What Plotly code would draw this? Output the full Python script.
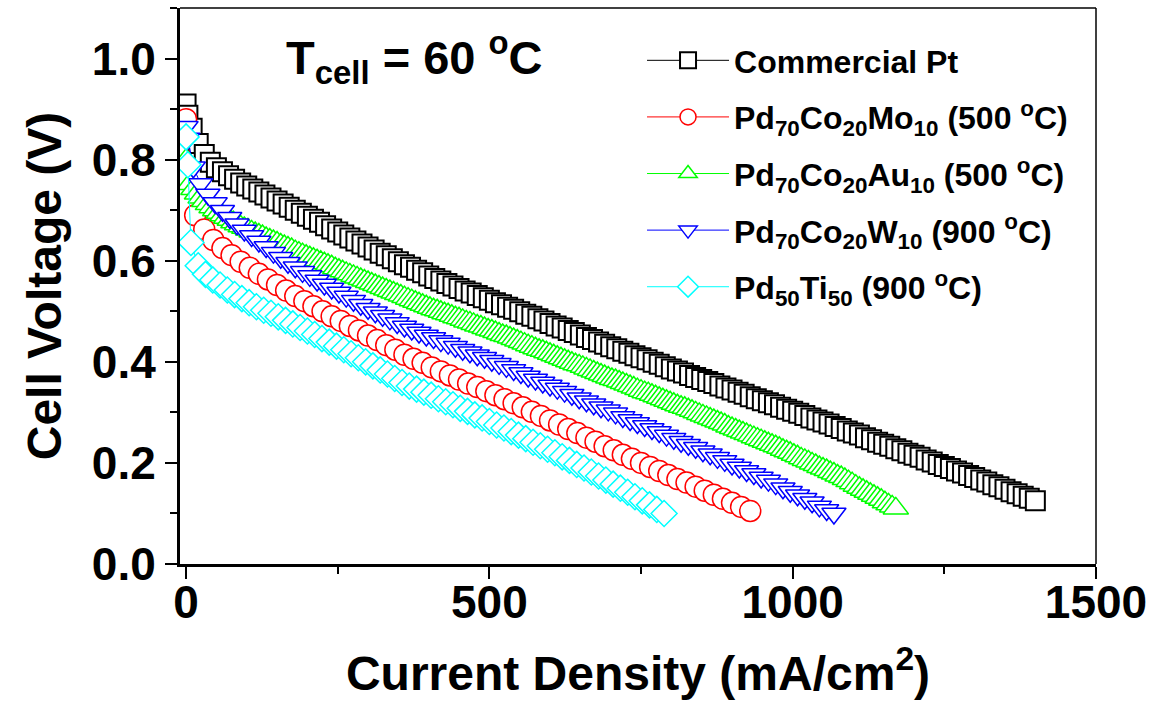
import plotly.graph_objects as go

# ---------------- data ----------------
pt_x = [0, 3, 10, 20, 30, 40, 50, 60, 70, 80, 90, 100, 110, 120, 130, 140, 150, 160, 170, 180, 190,
        200, 210, 220, 230, 240, 250, 260, 270, 280, 290, 300, 310, 320, 330, 340, 350, 360, 370, 380, 390,
        400, 410, 420, 430, 440, 450, 460, 470, 480, 490, 500, 510, 520, 530, 540, 550, 560, 570, 580, 590,
        600, 610, 620, 630, 640, 650, 660, 670, 680, 690, 700, 710, 720, 730, 740, 750, 760, 770, 780, 790,
        800, 810, 820, 830, 840, 850, 860, 870, 880, 890, 900, 910, 920, 930, 940, 950, 960, 970, 980, 990,
        1000, 1010, 1020, 1030, 1040, 1050, 1060, 1070, 1080, 1090, 1100, 1110, 1120, 1130, 1140, 1150,
        1160, 1170, 1180, 1190, 1200, 1210, 1220, 1230, 1240, 1250, 1260, 1270, 1280, 1290, 1300, 1310,
        1320, 1330, 1340, 1350, 1360, 1370, 1380, 1390, 1400]
pt_y = [0.910, 0.888, 0.862, 0.832, 0.810, 0.795, 0.784, 0.776, 0.768, 0.761, 0.754, 0.748, 0.742, 0.736,
        0.730, 0.724, 0.718, 0.712, 0.706, 0.700, 0.694, 0.688, 0.682, 0.676, 0.669, 0.663, 0.657, 0.651,
        0.645, 0.639, 0.633, 0.627, 0.621, 0.615, 0.610, 0.604, 0.598, 0.592, 0.587, 0.581, 0.576, 0.570,
        0.565, 0.560, 0.555, 0.550, 0.545, 0.540, 0.536, 0.531, 0.527, 0.522, 0.517, 0.513, 0.508, 0.504,
        0.499, 0.494, 0.490, 0.485, 0.481, 0.476, 0.471, 0.467, 0.462, 0.458, 0.453, 0.448, 0.444, 0.439,
        0.435, 0.430, 0.426, 0.421, 0.417, 0.412, 0.408, 0.404, 0.399, 0.395, 0.390, 0.386, 0.382, 0.378,
        0.373, 0.369, 0.365, 0.361, 0.357, 0.352, 0.348, 0.344, 0.340, 0.336, 0.331, 0.327, 0.323, 0.319,
        0.315, 0.310, 0.306, 0.302, 0.298, 0.294, 0.289, 0.285, 0.281, 0.277, 0.272, 0.268, 0.263, 0.259,
        0.255, 0.250, 0.246, 0.241, 0.237, 0.233, 0.228, 0.224, 0.219, 0.215, 0.211, 0.206, 0.202, 0.197,
        0.193, 0.189, 0.184, 0.180, 0.175, 0.171, 0.166, 0.162, 0.157, 0.153, 0.148, 0.143, 0.139, 0.134,
        0.130, 0.125]

mo_x = [0, 15, 30, 45, 60, 75, 90, 105, 120, 135, 150, 165, 180, 195, 210, 225, 240, 255, 270, 285, 300,
        315, 330, 345, 360, 375, 390, 405, 420, 435, 450, 465, 480, 495, 510, 525, 540, 555, 570, 585, 600,
        615, 630, 645, 660, 675, 690, 705, 720, 735, 750, 765, 780, 795, 810, 825, 840, 855, 870, 885, 900,
        915, 930]
mo_y = [0.880, 0.690, 0.662, 0.641, 0.625, 0.611, 0.598, 0.586, 0.574, 0.563, 0.552, 0.541, 0.530, 0.520,
        0.510, 0.500, 0.490, 0.481, 0.471, 0.462, 0.452, 0.443, 0.433, 0.424, 0.414, 0.406, 0.398, 0.389,
        0.381, 0.373, 0.365, 0.357, 0.350, 0.342, 0.334, 0.326, 0.318, 0.310, 0.301, 0.293, 0.284, 0.276,
        0.267, 0.259, 0.250, 0.242, 0.233, 0.225, 0.216, 0.208, 0.200, 0.192, 0.184, 0.176, 0.168, 0.161,
        0.153, 0.145, 0.137, 0.129, 0.121, 0.113, 0.105]

au_x = [0, 6, 12, 18, 24, 30, 36, 42, 48, 54, 60, 66, 72, 78, 84, 90, 96, 102, 108, 114, 120, 126, 132,
        138, 144, 150, 156, 162, 168, 174, 180, 186, 192, 198, 204, 210, 216, 222, 228, 234, 240, 246, 252,
        258, 264, 270, 276, 282, 288, 294, 300, 306, 312, 318, 324, 330, 336, 342, 348, 354, 360, 366, 372,
        378, 384, 390, 396, 402, 408, 414, 420, 426, 432, 438, 444, 450, 456, 462, 468, 474, 480, 486, 492,
        498, 504, 510, 516, 522, 528, 534, 540, 546, 552, 558, 564, 570, 576, 582, 588, 594, 600, 606, 612,
        618, 624, 630, 636, 642, 648, 654, 660, 666, 672, 678, 684, 690, 696, 702, 708, 714, 720, 726, 732,
        738, 744, 750, 756, 762, 768, 774, 780, 786, 792, 798, 804, 810, 816, 822, 828, 834, 840, 846, 852,
        858, 864, 870, 876, 882, 888, 894, 900, 906, 912, 918, 924, 930, 936, 942, 948, 954, 960, 966, 972,
        978, 984, 990, 996, 1002, 1008, 1014, 1020, 1026, 1032, 1038, 1044, 1050, 1056, 1062, 1068, 1074,
        1080, 1086, 1092, 1098, 1104, 1110, 1116, 1122, 1128, 1134, 1140, 1146, 1152, 1158, 1164, 1170]
au_y = [0.800, 0.752, 0.742, 0.733, 0.725, 0.718, 0.712, 0.706, 0.700, 0.695, 0.690, 0.685, 0.681, 0.676,
        0.672, 0.668, 0.665, 0.662, 0.658, 0.655, 0.652, 0.649, 0.645, 0.642, 0.639, 0.636, 0.632, 0.629,
        0.626, 0.623, 0.619, 0.616, 0.613, 0.610, 0.607, 0.604, 0.601, 0.598, 0.595, 0.592, 0.589, 0.585,
        0.582, 0.579, 0.576, 0.573, 0.570, 0.567, 0.564, 0.561, 0.558, 0.555, 0.552, 0.549, 0.546, 0.543,
        0.540, 0.537, 0.534, 0.531, 0.528, 0.525, 0.522, 0.519, 0.516, 0.513, 0.510, 0.507, 0.504, 0.502,
        0.499, 0.496, 0.494, 0.491, 0.488, 0.486, 0.483, 0.480, 0.478, 0.475, 0.472, 0.470, 0.467, 0.464,
        0.462, 0.459, 0.456, 0.453, 0.451, 0.448, 0.445, 0.442, 0.439, 0.436, 0.433, 0.430, 0.427, 0.424,
        0.422, 0.419, 0.416, 0.413, 0.410, 0.407, 0.404, 0.401, 0.398, 0.395, 0.393, 0.390, 0.387, 0.384,
        0.381, 0.378, 0.375, 0.372, 0.369, 0.366, 0.364, 0.361, 0.358, 0.355, 0.352, 0.349, 0.346, 0.343,
        0.340, 0.338, 0.335, 0.332, 0.329, 0.326, 0.323, 0.320, 0.317, 0.314, 0.311, 0.309, 0.306, 0.303,
        0.300, 0.297, 0.294, 0.291, 0.288, 0.285, 0.282, 0.279, 0.276, 0.272, 0.269, 0.266, 0.263, 0.260,
        0.257, 0.254, 0.251, 0.248, 0.245, 0.242, 0.239, 0.236, 0.233, 0.230, 0.226, 0.223, 0.220, 0.216,
        0.213, 0.209, 0.206, 0.203, 0.199, 0.196, 0.192, 0.189, 0.186, 0.182, 0.179, 0.175, 0.172, 0.168,
        0.164, 0.160, 0.155, 0.151, 0.147, 0.143, 0.139, 0.135, 0.131, 0.127, 0.122, 0.118, 0.114, 0.110]

w_x = [0, 3, 12, 24, 36, 48, 60, 72, 84, 96, 108, 120, 132, 144, 156, 168, 180, 192, 204, 216, 228, 240,
       252, 264, 276, 288, 300, 312, 324, 336, 348, 360, 372, 384, 396, 408, 420, 432, 444, 456, 468, 480,
       492, 504, 516, 528, 540, 552, 564, 576, 588, 600, 612, 624, 636, 648, 660, 672, 684, 696, 708, 720,
       732, 744, 756, 768, 780, 792, 804, 816, 828, 840, 852, 864, 876, 888, 900, 912, 924, 936, 948, 960,
       972, 984, 996, 1008, 1020, 1032, 1044, 1056, 1068]
w_y = [0.865, 0.842, 0.785, 0.752, 0.731, 0.714, 0.699, 0.685, 0.672, 0.660, 0.649, 0.638, 0.627, 0.616,
       0.606, 0.596, 0.587, 0.578, 0.570, 0.561, 0.553, 0.545, 0.537, 0.529, 0.521, 0.513, 0.505, 0.498,
       0.491, 0.484, 0.477, 0.470, 0.464, 0.458, 0.452, 0.447, 0.441, 0.436, 0.430, 0.424, 0.419, 0.413,
       0.408, 0.402, 0.396, 0.390, 0.384, 0.378, 0.371, 0.365, 0.359, 0.353, 0.347, 0.341, 0.335, 0.328,
       0.322, 0.316, 0.310, 0.304, 0.298, 0.291, 0.285, 0.279, 0.273, 0.267, 0.261, 0.254, 0.248, 0.242,
       0.236, 0.230, 0.223, 0.217, 0.210, 0.204, 0.197, 0.191, 0.184, 0.178, 0.171, 0.165, 0.158, 0.150,
       0.143, 0.136, 0.129, 0.122, 0.114, 0.107, 0.100]

ti_x = [0, 3, 8, 20, 32, 44, 56, 68, 80, 92, 104, 116, 128, 140, 152, 164, 176, 188, 200, 212, 224, 236,
        248, 260, 272, 284, 296, 308, 320, 332, 344, 356, 368, 380, 392, 404, 416, 428, 440, 452, 464, 476,
        488, 500, 512, 524, 536, 548, 560, 572, 584, 596, 608, 620, 632, 644, 656, 668, 680, 692, 704, 716,
        728, 740, 752, 764, 776, 788]
ti_y = [0.845, 0.790, 0.636, 0.590, 0.573, 0.562, 0.552, 0.542, 0.533, 0.525, 0.517, 0.509, 0.502, 0.496,
        0.489, 0.482, 0.475, 0.468, 0.461, 0.454, 0.446, 0.439, 0.431, 0.424, 0.416, 0.408, 0.400, 0.392,
        0.384, 0.376, 0.367, 0.359, 0.352, 0.346, 0.340, 0.334, 0.327, 0.321, 0.315, 0.308, 0.302, 0.295,
        0.289, 0.282, 0.275, 0.269, 0.262, 0.255, 0.248, 0.241, 0.234, 0.227, 0.220, 0.212, 0.205, 0.197,
        0.190, 0.182, 0.174, 0.166, 0.158, 0.150, 0.142, 0.133, 0.125, 0.117, 0.108, 0.100]

series_names = [
    "Commercial Pt",
    "Pd<sub>70</sub>Co<sub>20</sub>Mo<sub>10</sub> (500 <sup>o</sup>C)",
    "Pd<sub>70</sub>Co<sub>20</sub>Au<sub>10</sub> (500 <sup>o</sup>C)",
    "Pd<sub>70</sub>Co<sub>20</sub>W<sub>10</sub> (900 <sup>o</sup>C)",
    "Pd<sub>50</sub>Ti<sub>50</sub> (900 <sup>o</sup>C)",
]
x_ticks = [0, 500, 1000, 1500]
y_ticks = [0.0, 0.2, 0.4, 0.6, 0.8, 1.0]

# ---------------- styling ----------------
FONT = "Liberation Sans, Arial, sans-serif"
styles = [
    dict(color="#000000", symbol="square", size=19, lw=2.0),
    dict(color="#FF0000", symbol="circle", size=21, lw=1.5),
    dict(color="#00FF00", symbol="triangle-up", size=22, lw=1.5),
    dict(color="#0000FF", symbol="triangle-down", size=21, lw=1.5),
    dict(color="#00FFFF", symbol="diamond", size=20, lw=1.5),
]
xs = [pt_x, mo_x, au_x, w_x, ti_x]
ys = [pt_y, mo_y, au_y, w_y, ti_y]

fig = go.Figure()
for i, (name, x, y, st) in enumerate(zip(series_names, xs, ys, styles)):
    fig.add_trace(go.Scatter(
        x=x, y=y, mode="lines+markers", name=name, legendgroup=f"g{i}",
        line=dict(color=st["color"], width=1),
        marker=dict(symbol=st["symbol"], size=st["size"], color="white",
                    line=dict(color=st["color"], width=st["lw"])),
    ))

fig.update_layout(
    width=1170, height=702,
    margin=dict(l=180, r=74, t=8, b=138),
    paper_bgcolor="white", plot_bgcolor="white",
    font=dict(family=FONT, color="black", weight="bold"),
    showlegend=True,
    legend=dict(x=0.5044, y=0.955, xanchor="left", yanchor="top",
                bgcolor="rgba(0,0,0,0)", borderwidth=0,
                font=dict(family=FONT, size=32, color="black", weight="bold"),
                itemwidth=82, tracegroupgap=12),
    xaxis=dict(range=[-10, 1500], tickvals=x_ticks, ticks="outside", ticklen=12, tickwidth=2,
               tickcolor="black", showline=True, linewidth=3, linecolor="black",
               showgrid=False, zeroline=False, ticklabelstandoff=-16,
               minor=dict(dtick=250, tick0=0, ticks="outside", ticklen=7, tickwidth=2, tickcolor="black",
                          showgrid=False),
               tickfont=dict(family=FONT, size=46, weight="bold"),
               title=dict(text="Current Density (mA/cm<sup>2</sup>)",
                          font=dict(family=FONT, size=48, weight="bold"), standoff=30)),
    yaxis=dict(range=[0, 1.1], tickvals=y_ticks, tickformat=".1f", ticks="outside", ticklen=12,
               tickwidth=2, tickcolor="black", showline=True, linewidth=3, linecolor="black",
               showgrid=False, zeroline=False,
               minor=dict(dtick=0.1, tick0=0, ticks="outside", ticklen=7, tickwidth=2, tickcolor="black",
                          showgrid=False),
               tickfont=dict(family=FONT, size=46, weight="bold"),
               title=dict(text="Cell Voltage (V)",
                          font=dict(family=FONT, size=48, weight="bold"), standoff=16)),
    shapes=[
        dict(type="line", xref="paper", yref="paper", x0=0, x1=1, y0=1, y1=1,
             line=dict(color="black", width=1.5)),
        dict(type="line", xref="paper", yref="paper", x0=1, x1=1, y0=0, y1=1,
             line=dict(color="black", width=1.5)),
    ],
    annotations=[
        dict(text="T<sub>cell</sub> = 60 <sup>o</sup>C", xref="paper", yref="paper",
             x=0.113, y=0.975, xanchor="left", yanchor="top", showarrow=False,
             font=dict(family=FONT, size=47, color="black", weight="bold")),
    ],
)

fig.write_html("out.html")
